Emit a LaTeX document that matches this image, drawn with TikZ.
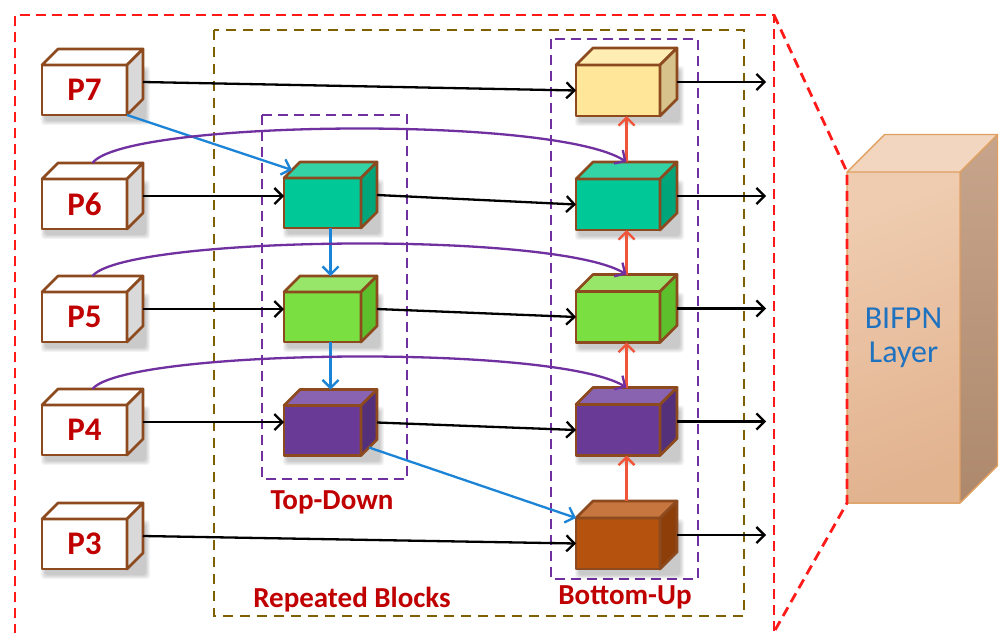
\documentclass[tikz,border=0pt]{standalone}
\usepackage{fontspec}
\setmainfont{Carlito}
\usetikzlibrary{calc,arrows.meta}

% outlines and text
\definecolor{edge}{HTML}{8C4A1E}
\definecolor{lab}{HTML}{C00000}
\definecolor{reddash}{HTML}{FF1A1A}
\definecolor{olive}{HTML}{7F6000}
\definecolor{violet}{HTML}{7030A0}
\definecolor{skyblue}{HTML}{1C84D6}
\definecolor{upred}{HTML}{F0553A}
\definecolor{bifblue}{HTML}{1F72C0}
% BIFPN block
\definecolor{bifFa}{HTML}{EFCCB0}\definecolor{bifFb}{HTML}{E2B38F}
\definecolor{bifT}{HTML}{F2D6C0}
\definecolor{bifSa}{HTML}{C7A58C}\definecolor{bifSb}{HTML}{AD886C}
\definecolor{bifEdge}{HTML}{E0A060}
% cube palettes: front / top / side
\definecolor{pF}{HTML}{FFFFFF}\definecolor{pT}{HTML}{FFFFFF}\definecolor{pS}{HTML}{D9D9D9}
\definecolor{gF}{HTML}{00C896}\definecolor{gT}{HTML}{33D3A5}\definecolor{gS}{HTML}{00A57A}
\definecolor{lF}{HTML}{7ADF41}\definecolor{lT}{HTML}{97E66A}\definecolor{lS}{HTML}{5DBF2C}
\definecolor{vF}{HTML}{6A3A97}\definecolor{vT}{HTML}{8A63B0}\definecolor{vS}{HTML}{55307A}
\definecolor{yF}{HTML}{FFE699}\definecolor{yT}{HTML}{FFEDB3}\definecolor{yS}{HTML}{D6C28A}
\definecolor{bF}{HTML}{B4520E}\definecolor{bT}{HTML}{C6763E}\definecolor{bS}{HTML}{8E3F09}

\tikzset{
  cubeedge/.style={draw=edge, line width=2.7pt, line join=round},
  cubefront/.style={cubeedge, inner sep=0pt, outer sep=0pt,
    font=\fontsize{33}{33}\selectfont\bfseries, text=lab},
  arr/.style={line width=2.3pt, -{Straight Barb[length=8pt,width=16pt]}},
  blk/.style={arr, draw=black},
  bluearr/.style={arr, draw=skyblue},
  redarr/.style={arr, draw=upred},
  violetarr/.style={arr, draw=violet},
  redbox/.style={draw=reddash, line width=2.8pt, dash pattern=on 10pt off 6pt},
  olivebox/.style={draw=olive, line width=2.7pt, dash pattern=on 10pt off 7pt},
  violetbox/.style={draw=violet, line width=2.6pt, dash pattern=on 10pt off 6pt},
  lbl/.style={font=\fontsize{29}{29}\selectfont\bfseries, text=lab, inner sep=0pt},
}

% \boxcube{name}{x}{y}{width}{height}{depth}{palette}{label}
\newcommand\boxcube[8]{%
  \foreach \s in {0,...,4}{
    \fill[black, opacity=0.045, rounded corners=3pt]
      (#2-#4/2+3-\s, #3-#5/2+5-\s) rectangle (#2+#4/2+#6+3+\s, #3+#5/2+6+\s);
  }
  \node[cubefront, fill=#7F, minimum width=#4pt, minimum height=#5pt] (#1) at (#2,#3) {#8};
  \filldraw[cubeedge, fill=#7T] (#1.north west) -- ++(#6,-#6) -- ++(#4,0) -- (#1.north east) -- cycle;
  \filldraw[cubeedge, fill=#7S] (#1.north east) -- ++(#6,-#6) -- ++(0,#5) -- (#1.south east) -- cycle;
  \coordinate (#1-r)  at ($(#1.east)+(#6,-0.5*#6)$);
  \coordinate (#1-tb) at ($(#1.north)+(0.5*#6,-#6)$);
  \coordinate (#1-tl) at ($(#1.north west)+(0.5*#6,-0.5*#6)$);
  \coordinate (#1-br) at ($(#1.south east)+(0.5*#6,-0.5*#6)$);
}

\begin{document}
\begin{tikzpicture}[x=1pt, y=-1pt]
  \clip (0,0) rectangle (1001,632);
  \fill[white] (0,0) rectangle (1001,632);

  % BIFPN layer block
  \node[draw=none, inner sep=0pt, outer sep=0pt, minimum width=113pt, minimum height=331pt,
        top color=bifFa, bottom color=bifFb, shading angle=20,
        align=center, text=bifblue, font=\fontsize{32}{34}\selectfont]
        (bif) at (903.5,337.5) {BIFPN\\Layer};
  \fill[bifT] (bif.north west) -- ++(37.5,-37.5) -- ++(113,0) -- (bif.north east) -- cycle;
  \shade[top color=bifSa, bottom color=bifSb]
    (bif.north east) -- ++(37.5,-37.5) -- ++(0,331) -- (bif.south east) -- cycle;
  \draw[bifEdge, line width=1.4pt, line join=round]
    (bif.south west) rectangle (bif.north east)
    (bif.north west) -- ++(37.5,-37.5) -- ++(113,0) -- (bif.north east)
    ++(37.5,-37.5) -- ++(0,331) -- (bif.south east);

  % dashed frames
  \draw[redbox] (15,650) -- (15,15) -- (774,15) -- (774,650);
  \draw[redbox] (774,15) -- (bif.north west) -- (bif.south west) -- (774,632);
  \draw[olivebox] (214,30) rectangle (744,616);
  \draw[violetbox] (262,115) rectangle (407,479);
  \draw[violetbox] (551,39) rectangle (698,579);

  % input levels
  \boxcube{P7}{84.5}{90}{85}{50}{16}{p}{P7}
  \boxcube{P6}{84.5}{204}{85}{50}{16}{p}{P6}
  \boxcube{P5}{84.5}{317}{85}{50}{16}{p}{P5}
  \boxcube{P4}{84.5}{430}{85}{50}{16}{p}{P4}
  \boxcube{P3}{84.5}{544}{85}{50}{16}{p}{P3}

  % top-down path
  \boxcube{TD6}{322.5}{203}{77}{50}{16}{g}{}
  \boxcube{TD5}{322.5}{317}{77}{50}{16}{l}{}
  \boxcube{TD4}{322.5}{430.5}{77}{50}{16}{v}{}

  % bottom-up path
  \boxcube{BU7}{618}{90.5}{84}{51}{17}{y}{}
  \boxcube{BU6}{618}{204.5}{84}{51}{17}{g}{}
  \boxcube{BU5}{618}{317}{84}{51}{17}{l}{}
  \boxcube{BU4}{618}{430}{84}{51}{17}{v}{}
  \boxcube{BU3}{618}{543.5}{84}{51}{17}{b}{}

  % labels
  \node[lbl, anchor=base] (tdlabel) at (332,509) {Top-Down};
  \node[lbl, anchor=base] (rblabel) at (352,607) {Repeated Blocks};
  \node[lbl, anchor=base] (bulabel) at (625,604) {Bottom-Up};

  % lateral connections
  \draw[blk] (P7-r) -- (BU7.west);
  \draw[blk] (P6-r) -- (P6-r -| TD6.west);
  \draw[blk] (P5-r) -- (P5-r -| TD5.west);
  \draw[blk] (P4-r) -- (P4-r -| TD4.west);
  \draw[blk] (TD6-r) -- (BU6.west);
  \draw[blk] (TD5-r) -- (BU5.west);
  \draw[blk] (TD4-r) -- (BU4.west);
  \draw[blk] (P3-r) -- (BU3.west);

  % outputs
  \foreach \n in {BU7,BU6,BU5,BU4,BU3}{
    \draw[blk] (\n-r) -- ++(89,0);
  }

  % top-down flow
  \draw[bluearr] (P7.south east) -- (TD6-tl);
  \draw[bluearr] (TD5-tb |- TD6.south) -- (TD5-tb);
  \draw[bluearr] (TD4-tb |- TD5.south) -- (TD4-tb);
  \draw[bluearr] (TD4-br) -- (BU3.north west);

  % bottom-up flow
  \draw[redarr] (BU3-tb) -- (BU3-tb |- BU4.south);
  \draw[redarr] (BU4-tb) -- (BU4-tb |- BU5.south);
  \draw[redarr] (BU5-tb) -- (BU5-tb |- BU6.south);
  \draw[redarr] (BU6-tb) -- (BU6-tb |- BU7.south);

  % skip connections
  \draw[violetarr] (P6-tb) .. controls ($(P6-tb)+(32,-43)$) and ($(BU6-tb)+(-72,-47)$) .. (BU6-tb);
  \draw[violetarr] (P5-tb) .. controls ($(P5-tb)+(32,-40)$) and ($(BU5-tb)+(-72,-44)$) .. (BU5-tb);
  \draw[violetarr] (P4-tb) .. controls ($(P4-tb)+(32,-40)$) and ($(BU4-tb)+(-72,-44)$) .. (BU4-tb);
\end{tikzpicture}
\end{document}
